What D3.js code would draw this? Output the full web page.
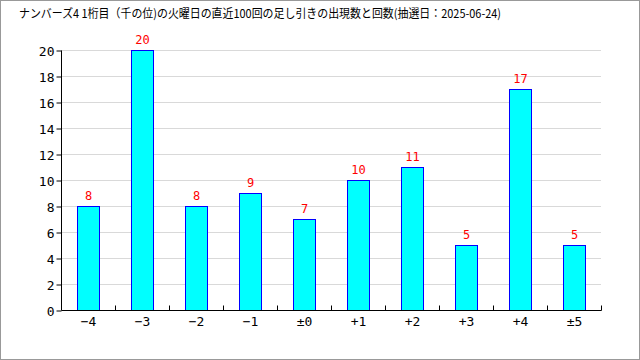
<!DOCTYPE html>
<html><head><meta charset="utf-8">
<script src="https://cdn.jsdelivr.net/npm/d3@7"></script>
<style>body{margin:0;background:#fff}svg{display:block}</style>
</head><body>
<script>
const title = "ナンバーズ4 1桁目（千の位)の火曜日の直近100回の足し引きの出現数と回数(抽選日：2025-06-24)";
const categories = ["-4","-3","-2","-1","±0","+1","+2","+3","+4","±5"];
const labels = ["−4","−3","−2","−1","±0","+1","+2","+3","+4","±5"];
const values = [8,20,8,9,7,10,11,5,17,5];
const yTicks = [0,2,4,6,8,10,12,14,16,18,20];

const W=640,H=360, L=61, R=601, T=50, B=310;
const font = "'DejaVu Sans Mono','Noto Sans CJK JP',monospace";
const svg = d3.select("body").append("svg").attr("width",W).attr("height",H);
svg.append("rect").attr("x",0.5).attr("y",0.5).attr("width",W-1).attr("height",H-1)
  .attr("fill","#fff").attr("stroke","#999");

svg.append("text").attr("x",19).attr("y",18).attr("font-family","'Noto Sans CJK JP',sans-serif")
  .attr("font-size",12).attr("fill","#000")
  .attr("textLength",482).attr("lengthAdjust","spacingAndGlyphs").text(title);

const x = d3.scaleBand().domain(categories).range([L,R]).paddingInner(0.59).paddingOuter(0.295);
const y = d3.scaleLinear().domain([0,20]).range([B,T]);

svg.append("g").selectAll("line").data(yTicks.filter(d=>d>0)).join("line")
  .attr("x1",L).attr("x2",R).attr("y1",d=>y(d)+0.5).attr("y2",d=>y(d)+0.5)
  .attr("stroke","#d9d9d9");

svg.append("g").selectAll("rect").data(values).join("rect")
  .attr("x",(d,i)=>Math.round(x(categories[i]))+0.5).attr("y",d=>y(d)+0.5)
  .attr("width",Math.round(x.bandwidth())).attr("height",d=>B-y(d))
  .attr("fill","#00ffff").attr("stroke","#0000ff");

svg.append("g").selectAll("text").data(values).join("text")
  .attr("x",(d,i)=>x(categories[i])+x.bandwidth()/2+0.5).attr("y",d=>y(d)-6)
  .attr("text-anchor","middle").attr("font-family",font).attr("font-size",12)
  .attr("fill","#ff0000").text(d=>d);

// y axis
const ya = d3.axisLeft(y).tickValues(yTicks).tickSize(5).tickPadding(2);
const yg = svg.append("g").attr("transform",`translate(${L+0.5},0.5)`).call(ya);
yg.select(".domain").attr("d",`M0,${T}V${B}`).attr("stroke","#000");
yg.selectAll("text").attr("font-family",font).attr("font-size",13).attr("fill","#000").attr("dy","0.35em").attr("y",0);

// x axis
const xa = d3.axisBottom(x).tickFormat((d,i)=>labels[i]).tickSize(0).tickPadding(6);
const xg = svg.append("g").attr("transform",`translate(0.5,${B+0.5})`).call(xa);
xg.select(".domain").attr("d",`M${L},0H${R}`).attr("stroke","#000");
xg.selectAll("text").attr("font-family",font).attr("font-size",13).attr("fill","#000");
const step = x.step();
const bounds = d3.range(1,categories.length+1).map(i=>L+i*step);
xg.append("g").selectAll("line").data(bounds).join("line")
  .attr("x1",d=>Math.round(d)).attr("x2",d=>Math.round(d)).attr("y1",0).attr("y2",-5).attr("stroke","#000");
</script>
</body></html>
